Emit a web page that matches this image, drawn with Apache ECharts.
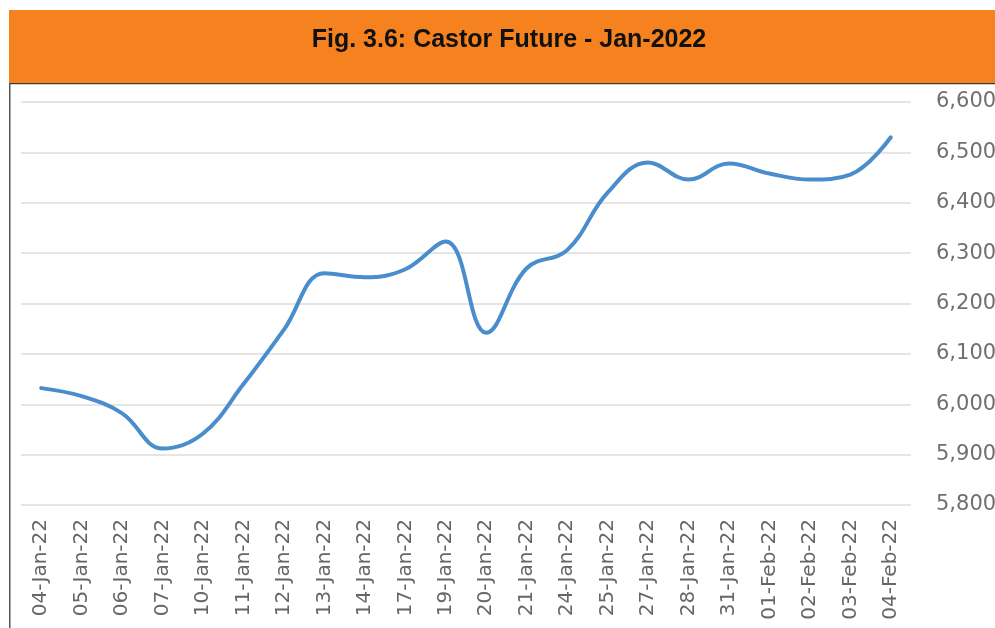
<!DOCTYPE html>
<html>
<head>
<meta charset="utf-8">
<title>Castor Future - Jan-2022</title>
<script src="https://cdn.jsdelivr.net/npm/echarts@6/dist/echarts.min.js"></script>
<style>
  html, body { margin: 0; padding: 0; background: #ffffff; }
  #chart { width: 995px; height: 628px; }
</style>
</head>
<body>
<div id="chart"></div>
<script>
// Trading dates shown on the category axis
const dates = [
  '04-Jan-22', '05-Jan-22', '06-Jan-22', '07-Jan-22', '10-Jan-22', '11-Jan-22',
  '12-Jan-22', '13-Jan-22', '14-Jan-22', '17-Jan-22', '19-Jan-22', '20-Jan-22',
  '21-Jan-22', '24-Jan-22', '25-Jan-22', '27-Jan-22', '28-Jan-22', '31-Jan-22',
  '01-Feb-22', '02-Feb-22', '03-Feb-22', '04-Feb-22'
];

// Castor futures closing price (Rs/quintal)
const prices = [
  6032, 6016, 5982, 5912, 5942, 6040,
  6148, 6260, 6252, 6268, 6323, 6142,
  6270, 6306, 6420, 6480, 6446, 6478,
  6458, 6446, 6456, 6530
];

// Price axis range
const yMin = 5800;
const yMax = 6600;
const yStep = 100;

const titleText = 'Fig. 3.6: Castor Future - Jan-2022';

const chart = echarts.init(document.getElementById('chart'), null, { renderer: 'canvas' });

chart.setOption({
  backgroundColor: '#ffffff',
  animation: false,
  graphic: [
    // orange header band
    { type: 'rect', left: 9, top: 10, shape: { width: 986, height: 73 },
      style: { fill: '#f5821f' }, z: 0 },
    // frame lines around the plot panel
    { type: 'rect', left: 9, top: 83, shape: { width: 986, height: 1.2 },
      style: { fill: '#3a3a3a' }, z: 1 },
    { type: 'rect', left: 9, top: 83, shape: { width: 1.5, height: 545 },
      style: { fill: '#555555' }, z: 1 }
  ],
  title: {
    text: titleText,
    left: 504,
    top: 23,
    textAlign: 'center',
    textStyle: {
      fontFamily: 'Liberation Sans, Arial, sans-serif',
      fontWeight: 'bold',
      fontSize: 25,
      color: '#111111'
    }
  },
  grid: {
    left: 21,
    right: 84,
    top: 102,
    bottom: 123,
    containLabel: false,
    outerBoundsMode: 'none'
  },
  xAxis: {
    type: 'category',
    data: dates,
    boundaryGap: true,
    axisLine: { show: false },
    axisTick: { show: false },
    axisLabel: {
      rotate: 90,
      margin: 14,
      interval: 0,
      fontFamily: 'DejaVu Sans, Verdana, sans-serif',
      fontSize: 20,
      color: '#666666'
    },
    splitLine: { show: false }
  },
  yAxis: {
    type: 'value',
    position: 'right',
    min: yMin,
    max: yMax,
    interval: yStep,
    axisLine: { show: false },
    axisTick: { show: false },
    axisLabel: {
      margin: 25,
      fontFamily: 'DejaVu Sans, Verdana, sans-serif',
      fontSize: 21,
      color: '#707070',
      formatter: v => v.toLocaleString('en-US')
    },
    splitLine: {
      show: true,
      lineStyle: { color: '#dcdcdc', width: 1.5 }
    }
  },
  series: [{
    type: 'line',
    data: prices,
    smooth: 0.4,
    symbol: 'none',
    lineStyle: { color: '#4a8dcc', width: 4, cap: 'round' },
    z: 3
  }]
});
</script>
</body>
</html>
